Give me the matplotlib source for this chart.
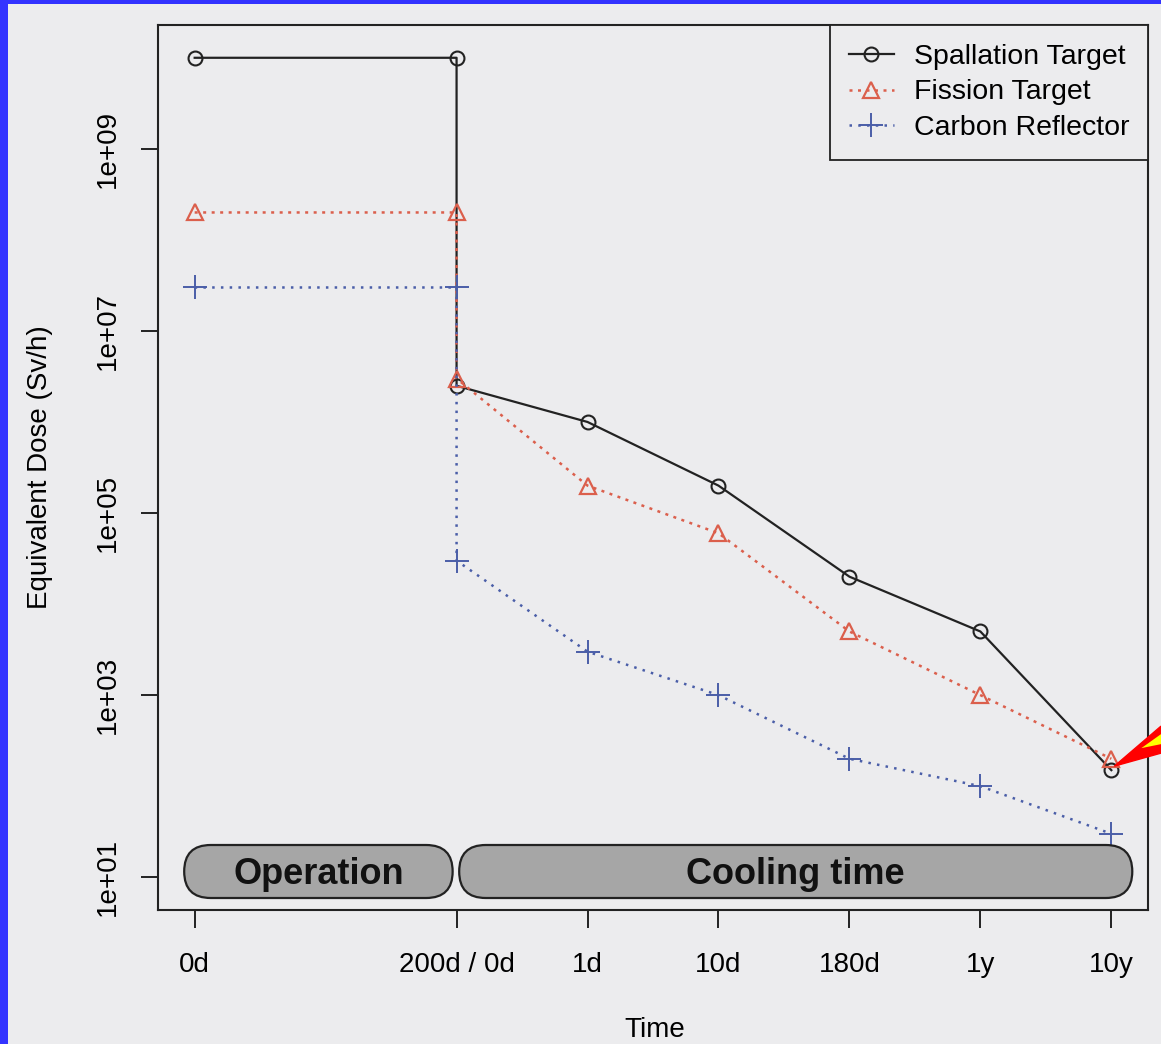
import matplotlib.pyplot as plt
from matplotlib.patches import FancyBboxPatch, Polygon, Rectangle
import numpy as np

# datos
x_pos = [0, 2, 2, 3, 4, 5, 6, 7]
tick_pos = [0, 2, 3, 4, 5, 6, 7]
tick_labels = ['0d', '200d / 0d', '1d', '10d', '180d', '1y', '10y']
spallation = [1e10, 1e10, 2.5e6, 1e6, 2e5, 2e4, 5e3, 150]
fission = [2e8, 2e8, 3e6, 2e5, 6e4, 5e3, 1e3, 200]
carbon = [3e7, 3e7, 3e4, 3e3, 1e3, 200, 100, 30]
fases = [('Operation', -0.08, 1.97), ('Cooling time', 2.02, 7.16)]

plt.rcParams['font.family'] = ['Liberation Sans', 'DejaVu Sans']
bg = '#ECECEE'
col_red = '#DB5F4C'
col_blue = '#4A5EA8'

fig = plt.figure(figsize=(11.61, 10.44), dpi=100, facecolor=bg)
ax = fig.add_axes([158/1161, 1 - 910/1044, (1148-158)/1161, (910-25)/1044])
ax.set_facecolor(bg)

ax.plot(x_pos, spallation, color='#222222', lw=1.6, marker='o', ms=10,
        mfc='none', mec='#222222', mew=1.5, label='Spallation Target')
ax.plot(x_pos, fission, color=col_red, lw=1.8, ls=(0, (1.2, 2.2)), marker='^', ms=11,
        mfc='none', mec=col_red, mew=1.6, label='Fission Target')
ax.plot(x_pos, carbon, color=col_blue, lw=1.8, ls=(0, (1, 2.5)), marker='+', ms=17,
        mec=col_blue, mew=1.4, label='Carbon Reflector')

ax.set_yscale('log')
ax.set_xlim(-0.28, 7.28)
lo, hi = np.log10(10), np.log10(1e10)
ext = (hi - lo) * 0.04
ax.set_ylim(10 ** (lo - ext), 10 ** (hi + ext))

ax.set_yticks([1e1, 1e3, 1e5, 1e7, 1e9])
ax.set_yticklabels(['1e+01', '1e+03', '1e+05', '1e+07', '1e+09'], rotation=90, va='center')
ax.minorticks_off()
ax.set_xticks(tick_pos)
ax.set_xticklabels(tick_labels)
ax.tick_params(axis='x', length=13, width=1.2, pad=17, labelsize=20)
ax.tick_params(axis='y', length=12, width=1.2, pad=15, labelsize=20)
for s in ax.spines.values():
    s.set_linewidth(1.5)
    s.set_color('#222222')

fig.text(655/1161, 1 - 1030/1044, 'Time', ha='center', va='center', fontsize=20)
fig.text(40/1161, 1 - 467/1044, 'Equivalent Dose (Sv/h)', ha='center', va='center',
         rotation=90, fontsize=20)

leg = ax.legend(loc='upper right', bbox_to_anchor=(1.0, 1.0), fontsize=20.5, frameon=True,
                fancybox=False, edgecolor='#222222', facecolor=bg, framealpha=1,
                labelspacing=0.35, handlelength=1.6, handletextpad=0.7, borderpad=0.65,
                borderaxespad=0)
leg.get_frame().set_linewidth(1.3)

# burbujas de fases
fig.canvas.draw()
trans = ax.transData
y_lo_px, y_hi_px = 1044 - 898, 1044 - 845
for nombre, x0, x1 in fases:
    px0 = trans.transform((x0, 1))[0]
    px1 = trans.transform((x1, 1))[0]
    h = y_hi_px - y_lo_px
    box = FancyBboxPatch((px0, y_lo_px), px1 - px0, h,
                         boxstyle='round,pad=0,rounding_size=%f' % (h / 2),
                         transform=None, facecolor='#A6A6A6', edgecolor='#222222',
                         lw=1.6, zorder=5)
    fig.patches.append(box)
    fig.text((px0 + px1) / 2 / 1161, (y_lo_px + y_hi_px) / 2 / 1044 - 0.003, nombre,
             ha='center', va='center', fontsize=26, fontweight='bold', color='#111111',
             zorder=6)

# flecha roja hacia el ultimo punto
tx, ty = trans.transform((7, spallation[-1]))
flecha = Polygon([(tx + 3, ty + 4), (1161, ty + 44), (1161, ty + 17)], closed=True,
                 transform=None, facecolor='red', edgecolor='red', zorder=7)
fig.patches.append(flecha)
amarillo = Polygon([(tx + 30, ty + 22), (1161, ty + 36), (1161, ty + 26)], closed=True,
                   transform=None, facecolor='yellow', edgecolor='none', zorder=8)
fig.patches.append(amarillo)

# borde azul
fig.patches.append(Rectangle((0, 0), 8, 1044, transform=None, facecolor='#3333FF',
                             edgecolor='none', zorder=10))
fig.patches.append(Rectangle((0, 1040), 1161, 4, transform=None, facecolor='#3333FF',
                             edgecolor='none', zorder=10))

fig.savefig('out.png', dpi=100, facecolor=bg)
